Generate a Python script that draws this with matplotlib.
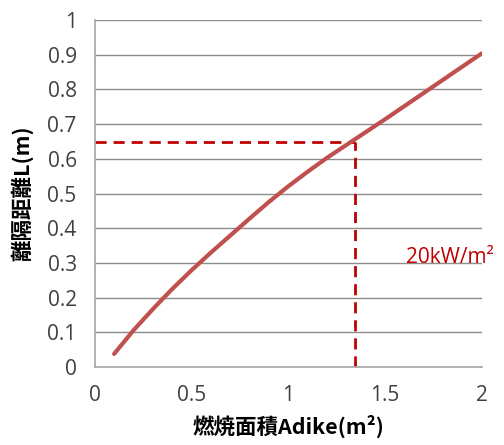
import matplotlib
matplotlib.use("Agg")
import matplotlib.pyplot as plt

plt.rcParams['font.family'] = ['Noto Sans CJK JP', 'DejaVu Sans']

area = [0.1, 0.2, 0.3, 0.4, 0.5, 0.6, 0.7, 0.8, 0.9, 1.0,
        1.1, 1.2, 1.3, 1.4, 1.5, 1.6, 1.7, 1.8, 1.9, 2.0]
dist = [0.038, 0.106, 0.167, 0.225, 0.279, 0.330, 0.379, 0.428, 0.476, 0.521,
        0.563, 0.603, 0.640, 0.677, 0.714, 0.752, 0.790, 0.828, 0.866, 0.904]
ref_x = 1.345
ref_y = 0.65
xticks = [0, 0.5, 1, 1.5, 2]
xtick_labels = ['0', '0.5', '1', '1.5', '2']
yticks = [0, 0.1, 0.2, 0.3, 0.4, 0.5, 0.6, 0.7, 0.8, 0.9, 1]
ytick_labels = ['0', '0.1', '0.2', '0.3', '0.4', '0.5', '0.6', '0.7', '0.8', '0.9', '1']
annot = '20kW/m²'

fig = plt.figure(figsize=(5.04, 4.45), dpi=100)
ax = fig.add_axes([0.188, 0.175, 0.768, 0.780])

ax.set_xlim(0, 2)
ax.set_ylim(0, 1)
ax.set_yticks(yticks)
ax.set_yticklabels(ytick_labels)
ax.set_xticks(xticks)
ax.set_xticklabels(xtick_labels)
ax.yaxis.grid(True, color='#8c8c8c', linewidth=1.0)
ax.set_axisbelow(True)
for s in ['top', 'right']:
    ax.spines[s].set_visible(False)
for s in ['left', 'bottom']:
    ax.spines[s].set_color('#a6a6a6')
    ax.spines[s].set_linewidth(1.2)
ax.tick_params(length=0, labelsize=15, colors='#404040')
ax.tick_params(axis='y', pad=13)
ax.tick_params(axis='x', pad=13)
for lab in ax.get_xticklabels() + ax.get_yticklabels():
    lab.set_family(['Open Sans', 'DejaVu Sans'])

ax.plot(area, dist, color='#C0504D', linewidth=3, solid_capstyle='round', zorder=3)
ax.plot([0, ref_x], [ref_y, ref_y], color='#C00000', linewidth=2, linestyle=(0, (4, 2.5)), zorder=2)
ax.plot([ref_x, ref_x], [0, ref_y], color='#C00000', linewidth=2, linestyle=(0, (4, 2.5)), zorder=2)

ax.text(1.61, 0.315, annot, color='#C00000', fontsize=15, va='center', ha='left',
        family=['Open Sans', 'DejaVu Sans'], clip_on=False)

ax.set_ylabel('離隔距離L(m)', fontsize=15.5, fontweight='bold', labelpad=10)
ax.set_xlabel('燃焼面積Adike(m²)', fontsize=15.5, fontweight='bold', labelpad=6)

fig.savefig('out.png', dpi=100)
